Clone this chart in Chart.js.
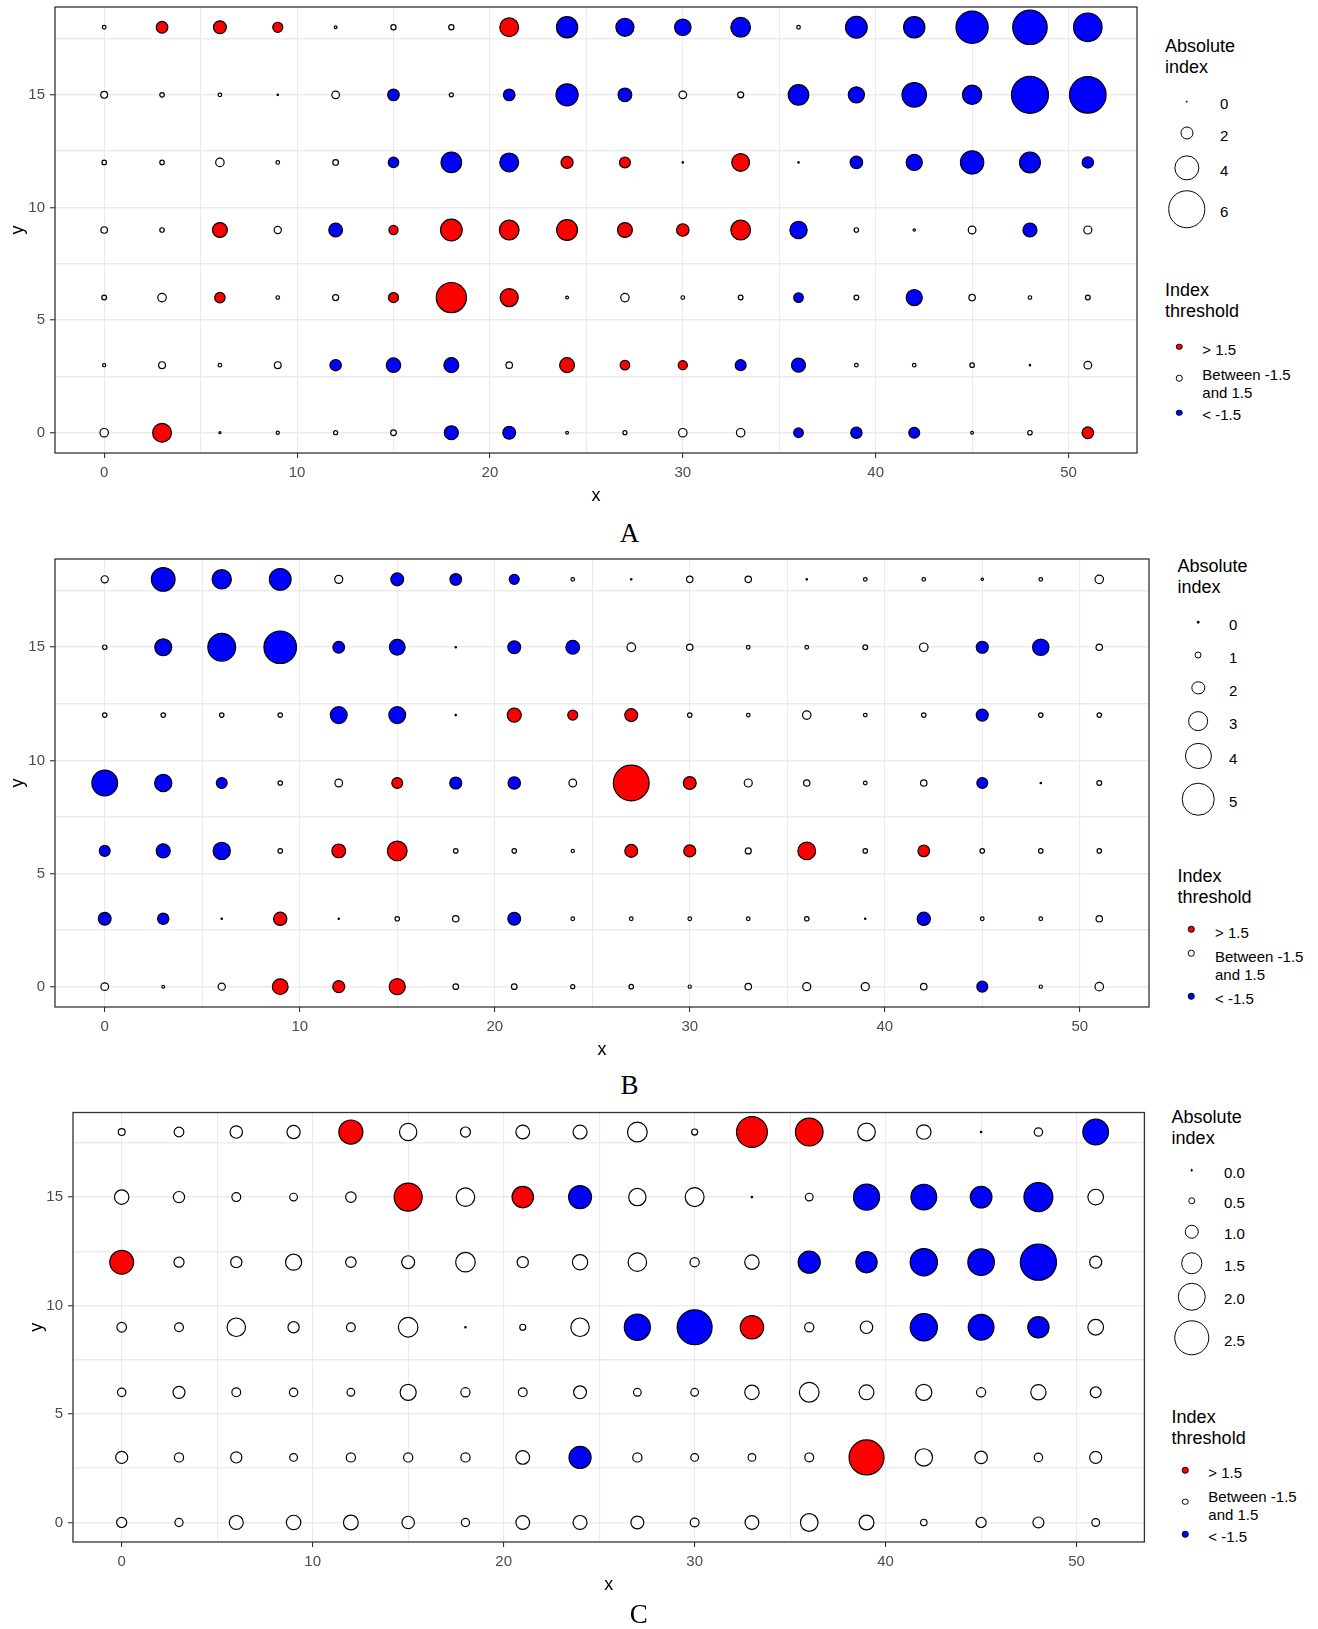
<!DOCTYPE html>
<html>
<head>
<meta charset="utf-8">
<title>Index bubble maps A, B, C</title>
<script src="https://cdn.jsdelivr.net/npm/chart.js@4.4.1/dist/chart.umd.min.js"></script>
<style>
  html, body { margin: 0; padding: 0; background: #ffffff; }
  #page { position: relative; width: 1318px; height: 1629px; overflow: hidden;
          font-family: "Liberation Sans", Arial, sans-serif; }
  .lg { position: absolute; color: #000; font-size: 15px; line-height: 17.5px;
        white-space: pre; transform: translateY(-50%); }
  .lg-title { font-size: 18px; line-height: 21px; }
  .key { position: absolute; border: 1.1px solid #000; border-radius: 50%;
         box-sizing: border-box; transform: translate(-50%, -50%); background: #fff; }
  .cap { position: absolute; font-family: "Liberation Serif", "Times New Roman", serif;
         font-size: 27px; line-height: 1; transform: translate(-50%, -50%); color: #000; }
</style>
</head>
<body>
<div id="page"></div>
<script>
// ---- grid of sampling positions -------------------------------------------
const xPositions = [0, 3, 6, 9, 12, 15, 18, 21, 24, 27, 30, 33, 36, 39, 42, 45, 48, 51];
const yPositions = [0, 3, 6, 9, 12, 15, 18];

// ---- axis ticks ------------------------------------------------------------
const xMajorTicks = [0, 10, 20, 30, 40, 50];
const xMinorGrid  = [5, 15, 25, 35, 45];
const yMajorTicks = [0, 5, 10, 15];
const yMinorGrid  = [2.5, 7.5, 12.5, 17.5];

// ---- legend breaks ---------------------------------------------------------
const sizeBreaksA = [0, 2, 4, 6];
const sizeLabelsA = ['0', '2', '4', '6'];
const sizeBreaksB = [0, 1, 2, 3, 4, 5];
const sizeLabelsB = ['0', '1', '2', '3', '4', '5'];
const sizeBreaksC = [0, 0.5, 1, 1.5, 2, 2.5];
const sizeLabelsC = ['0.0', '0.5', '1.0', '1.5', '2.0', '2.5'];
const thresholdLabels = ['> 1.5', 'Between -1.5\nand 1.5', '< -1.5'];
const indexThreshold = 1.5;

// ---- panel A: signed index per y row (columns follow xPositions) ----------
const indexA_y18 = [0.65, 1.96, 2.16, 1.70, 0.52, 0.91, 0.91, 3.14, -3.54, -3.02, -2.75, -3.28, 0.65, -3.61, -3.54, -5.33, -5.70, -4.73];
const indexA_y15 = [1.17, 0.79, 0.65, 0.19, 1.31, -1.96, 0.72, -1.96, -3.68, -2.30, 1.31, 1.05, -3.42, -2.70, -4.07, -3.21, -6.12, -6.05];
const indexA_y12 = [0.79, 0.79, 1.44, 0.65, 0.98, -1.77, -3.42, -3.14, 2.03, 1.84, 0.26, 2.96, 0.26, -2.10, -2.70, -3.87, -3.47, -1.91];
const indexA_y9  = [1.12, 0.79, 2.49, 1.24, -2.30, 1.55, 3.61, 3.28, 3.47, 2.49, 2.10, 3.28, -2.89, 0.79, 0.45, 1.31, -2.35, 1.37];
const indexA_y6  = [0.84, 1.45, 1.77, 0.65, 1.05, 1.70, 5.00, 3.02, 0.52, 1.44, 0.65, 0.84, -1.63, 0.84, -2.70, 1.12, 0.65, 0.84];
const indexA_y3  = [0.58, 1.17, 0.65, 1.17, -1.91, -2.42, -2.49, 1.12, 2.49, 1.63, 1.55, -1.84, -2.35, 0.65, 0.65, 0.79, 0.19, 1.31];
const indexA_y0  = [1.44, 3.14, 0.40, 0.58, 0.72, 0.98, -2.35, -2.16, 0.52, 0.72, 1.44, 1.44, -1.63, -1.91, -1.84, 0.52, 0.79, 1.96];

// ---- panel B ---------------------------------------------------------------
const indexB_y18 = [1.23, -3.80, -3.12, -3.50, 1.36, -2.11, -1.92, -1.67, 0.67, 0.30, 1.11, 1.11, 0.30, 0.67, 0.67, 0.48, 0.67, 1.43];
const indexB_y15 = [0.80, -2.74, -4.44, -5.18, -1.92, -2.56, 0.30, -2.11, -2.25, 1.45, 1.11, 0.67, 0.67, 0.85, 1.43, -1.98, -2.67, 1.11];
const indexB_y12 = [0.80, 0.80, 0.80, 0.80, -2.74, -2.74, 0.30, 2.30, 1.67, 2.11, 0.80, 0.67, 1.43, 0.67, 0.80, -1.98, 0.80, 0.80];
const indexB_y9  = [-4.12, -2.80, -1.80, 0.80, 1.30, 1.80, -1.98, -2.05, 1.30, 5.69, 2.11, 1.36, 1.11, 0.67, 1.11, -1.80, 0.30, 0.85];
const indexB_y6  = [-1.80, -2.30, -2.80, 0.80, 2.25, 3.18, 0.80, 0.80, 0.61, 2.11, 1.98, 1.05, 2.87, 0.80, 1.92, 0.80, 0.80, 0.80];
const indexB_y3  = [-2.11, -1.87, 0.25, 2.18, 0.25, 0.80, 1.11, -2.11, 0.67, 0.67, 0.67, 0.67, 0.80, 0.25, -2.18, 0.67, 0.67, 1.11];
const indexB_y0  = [1.30, 0.54, 1.23, 2.56, 1.98, 2.62, 0.98, 0.98, 0.74, 0.80, 0.61, 1.11, 1.36, 1.36, 1.11, -1.80, 0.61, 1.43];

// ---- panel C ---------------------------------------------------------------
const indexC_y18 = [0.54, 0.74, 0.94, 1.00, 1.77, 1.29, 0.77, 1.03, 1.05, 1.46, 0.48, 2.26, 2.03, 1.31, 1.08, 0.14, 0.65, -1.89];
const indexC_y15 = [1.08, 0.85, 0.68, 0.60, 0.80, 2.06, 1.37, 1.58, -1.69, 1.29, 1.40, 0.10, 0.60, -1.92, -1.89, -1.60, -2.12, 1.17];
const indexC_y12 = [1.75, 0.77, 0.85, 1.20, 0.80, 0.97, 1.45, 0.85, 1.14, 1.37, 0.71, 1.08, -1.63, -1.57, -2.00, -1.95, -2.64, 0.91];
const indexC_y9  = [0.74, 0.68, 1.37, 0.85, 0.68, 1.45, 0.10, 0.48, 1.37, -1.92, -2.55, 1.72, 0.71, 0.94, -2.00, -1.89, -1.57, 1.17];
const indexC_y6  = [0.65, 0.91, 0.68, 0.65, 0.60, 1.20, 0.71, 0.68, 0.97, 0.60, 0.60, 1.08, 1.46, 1.11, 1.20, 0.71, 1.14, 0.83];
const indexC_y3  = [0.91, 0.71, 0.85, 0.60, 0.71, 0.71, 0.71, 1.03, -1.63, 0.71, 0.60, 0.60, 0.68, 2.55, 1.29, 0.94, 0.65, 0.91];
const indexC_y0  = [0.77, 0.63, 1.05, 1.08, 1.11, 0.94, 0.63, 1.03, 1.05, 0.97, 0.68, 1.03, 1.31, 1.11, 0.51, 0.77, 0.83, 0.60];

// ---------------------------------------------------------------------------
const FONT = '"Liberation Sans", Arial, sans-serif';
Chart.defaults.font.family = FONT;

const thresholdClasses = [
  { key: 'high', fill: '#FF0000' },
  { key: 'mid',  fill: '#FFFFFF' },
  { key: 'low',  fill: '#0000FF' }
];
function classify(v) {
  if (v > indexThreshold) return 'high';
  if (v < -indexThreshold) return 'low';
  return 'mid';
}

const BORDER_W = 1.2;
// linear radius scale: outer diameter grows with |index|
function outerDiameter(absValue, size) {
  return 1.05 * (size.d0 + size.k * absValue);
}
function bubbleRadius(absValue, size) {
  return Math.max(0.7, (outerDiameter(absValue, size) - BORDER_W) / 2);
}

function buildPoints(rows, cls, size) {
  const pts = [];
  rows.forEach((row, j) => {
    row.forEach((v, i) => {
      if (classify(v) !== cls) return;
      pts.push({ x: xPositions[i], y: yPositions[j], r: bubbleRadius(Math.abs(v), size) });
    });
  });
  return pts;
}

const panelFrame = {
  id: 'panelFrame',
  afterDatasetsDraw(chart) {
    const { ctx, chartArea: a } = chart;
    ctx.save();
    ctx.strokeStyle = '#333333';
    ctx.lineWidth = 1.3;
    ctx.strokeRect(a.left, a.top, a.right - a.left, a.bottom - a.top);
    ctx.restore();
  }
};

const page = document.getElementById('page');

const xGridValues = xMajorTicks.concat(xMinorGrid).sort((a, b) => a - b);
const yGridValues = yMajorTicks.concat(yMinorGrid).sort((a, b) => a - b);

function makeChart(p) {
  const canvas = document.createElement('canvas');
  canvas.width = p.width;
  canvas.height = p.height;
  canvas.style.cssText = 'position:absolute;left:0;top:' + p.top + 'px;width:' + p.width + 'px;height:' + p.height + 'px;';
  page.appendChild(canvas);

  const datasets = thresholdClasses.map(c => ({
    data: buildPoints(p.rows, c.key, p.size),
    backgroundColor: c.fill,
    borderColor: '#000000',
    borderWidth: BORDER_W,
    hoverBorderWidth: BORDER_W
  }));

  new Chart(canvas, {
    type: 'bubble',
    data: { datasets },
    plugins: [panelFrame],
    options: {
      responsive: false,
      animation: false,
      events: [],
      layout: { autoPadding: false, padding: { top: p.padTop, right: p.padRight, left: 0, bottom: 0 } },
      plugins: { legend: { display: false }, tooltip: { enabled: false } },
      scales: {
        x: {
          type: 'linear', position: 'bottom', min: -2.55, max: 53.55,
          afterBuildTicks: s => { s.ticks = xGridValues.map(v => ({ value: v })); },
          afterFit: s => { s.height = 57; s.paddingLeft = 0; s.paddingRight = 0; },
          ticks: {
            autoSkip: false, maxRotation: 0, padding: 5.5, color: '#4D4D4D',
            font: { family: FONT, size: 15 },
            callback: v => (xMajorTicks.includes(v) ? String(v) : '')
          },
          grid: {
            color: '#EBEBEB', lineWidth: 1.1, drawTicks: true, tickLength: 5, tickWidth: 1.1,
            tickColor: c => (c.tick && xMajorTicks.includes(c.tick.value) ? '#333333' : 'rgba(0,0,0,0)')
          },
          border: { display: false },
          title: { display: true, text: 'x', color: '#000000', font: { family: FONT, size: 18 },
                   padding: { top: 0, bottom: 3.2 } }
        },
        y: {
          type: 'linear', position: 'left', min: -0.9, max: 18.9,
          afterBuildTicks: s => { s.ticks = yGridValues.map(v => ({ value: v })); },
          afterFit: s => { s.width = p.yAxisW; s.paddingTop = 0; s.paddingBottom = 0; },
          ticks: {
            autoSkip: false, padding: 5, color: '#4D4D4D',
            font: { family: FONT, size: 15 },
            callback: v => (yMajorTicks.includes(v) ? String(v) : '')
          },
          grid: {
            color: '#EBEBEB', lineWidth: 1.5, drawTicks: true, tickLength: 5, tickWidth: 1.1,
            tickColor: c => (c.tick && yMajorTicks.includes(c.tick.value) ? '#333333' : 'rgba(0,0,0,0)')
          },
          border: { display: false },
          title: { display: true, text: 'y', color: '#000000', font: { family: FONT, size: 18 },
                   padding: { top: p.yTitlePad, bottom: 0 } }
        }
      }
    }
  });
}

function addText(text, x, y, cls) {
  const el = document.createElement('div');
  el.className = cls;
  el.textContent = text;
  el.style.left = x + 'px';
  el.style.top = y + 'px';
  page.appendChild(el);
}
function addKey(x, y, d, fill, solidDot) {
  const el = document.createElement('div');
  el.className = 'key';
  el.style.left = x + 'px';
  el.style.top = y + 'px';
  el.style.width = d + 'px';
  el.style.height = d + 'px';
  el.style.background = solidDot ? '#000' : fill;
  page.appendChild(el);
}

function makeLegend(p) {
  const L = p.legend;
  addText('Absolute\nindex', L.titleX, L.absTitleY, 'lg lg-title');
  p.breaks.forEach((b, i) => {
    const d = outerDiameter(b, p.size);
    if (d < 3) addKey(L.sizeKeyX, L.sizeYs[i], 2.6, '#000', true);
    else addKey(L.sizeKeyX, L.sizeYs[i], d, '#fff', false);
    addText(p.labels[i], L.sizeLabelX, L.sizeYs[i] + 2.5, 'lg');
  });
  addText('Index\nthreshold', L.titleX, L.idxTitleY, 'lg lg-title');
  thresholdClasses.forEach((c, i) => {
    addKey(L.colorKeyX, L.colorKeyYs[i], 6.5, c.fill, false);
    addText(thresholdLabels[i], L.colorLabelX, L.colorLabelYs[i], 'lg');
  });
  const cap = document.createElement('div');
  cap.className = 'cap';
  cap.textContent = p.id;
  cap.style.left = p.caption.x + 'px';
  cap.style.top = p.caption.y + 'px';
  page.appendChild(cap);
}

const panels = [
  {
    id: 'A',
    rows: [indexA_y0, indexA_y3, indexA_y6, indexA_y9, indexA_y12, indexA_y15, indexA_y18],
    top: 0, width: 1150, height: 510, padTop: 7, padRight: 13, yAxisW: 55, yTitlePad: 6.8,
    size: { d0: 0.8, k: 5.82 },
    breaks: sizeBreaksA, labels: sizeLabelsA,
    legend: {
      titleX: 1165, absTitleY: 56.7, idxTitleY: 300.5,
      sizeKeyX: 1186.7, sizeYs: [101.7, 133.3, 168, 209], sizeLabelX: 1220,
      colorKeyX: 1179, colorKeyYs: [346.7, 378, 412.7], colorLabelX: 1202.3,
      colorLabelYs: [350, 383, 415]
    },
    caption: { x: 629.4, y: 532.8 }
  },
  {
    id: 'B',
    rows: [indexB_y0, indexB_y3, indexB_y6, indexB_y9, indexB_y12, indexB_y15, indexB_y18],
    top: 552, width: 1160, height: 512, padTop: 7, padRight: 11, yAxisW: 55, yTitlePad: 7,
    size: { d0: 0.5, k: 6.1 },
    breaks: sizeBreaksB, labels: sizeLabelsB,
    legend: {
      titleX: 1177.5, absTitleY: 576.5, idxTitleY: 887,
      sizeKeyX: 1198.4, sizeYs: [622, 655, 688, 721, 756, 799], sizeLabelX: 1229,
      colorKeyX: 1191, colorKeyYs: [929, 953, 996], colorLabelX: 1215,
      colorLabelYs: [932.5, 965, 999]
    },
    caption: { x: 629.4, y: 1085.3 }
  },
  {
    id: 'C',
    rows: [indexC_y0, indexC_y3, indexC_y6, indexC_y9, indexC_y12, indexC_y15, indexC_y18],
    top: 1105, width: 1155, height: 494, padTop: 7.5, padRight: 10.6, yAxisW: 73, yTitlePad: 26,
    size: { d0: 0.5, k: 13.3 },
    breaks: sizeBreaksC, labels: sizeLabelsC,
    legend: {
      titleX: 1171.6, absTitleY: 1127.5, idxTitleY: 1427.5,
      sizeKeyX: 1191.5, sizeYs: [1170, 1200.5, 1231.5, 1263.3, 1296.7, 1338], sizeLabelX: 1224,
      colorKeyX: 1185, colorKeyYs: [1470, 1501.5, 1534], colorLabelX: 1208.3,
      colorLabelYs: [1473, 1505, 1536.7]
    },
    caption: { x: 638.7, y: 1614 }
  }
];

panels.forEach(p => { makeChart(p); makeLegend(p); });
</script>
</body>
</html>
